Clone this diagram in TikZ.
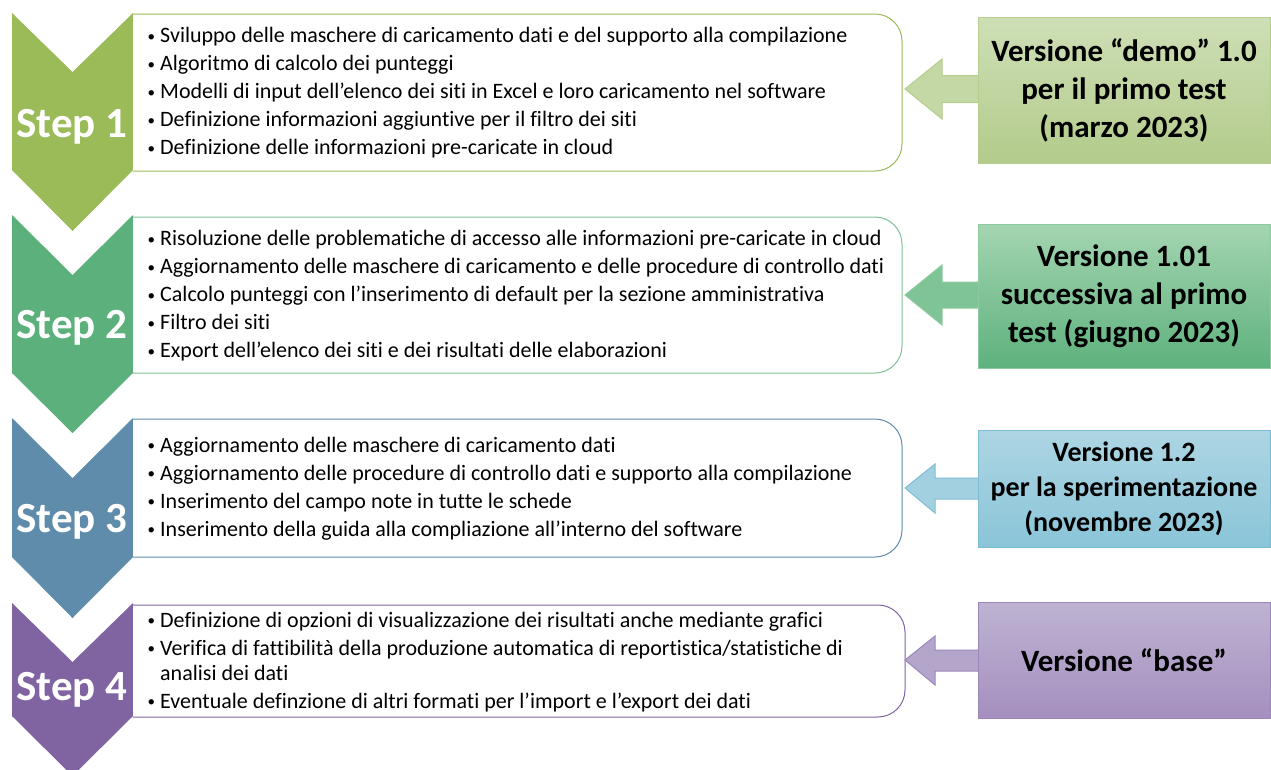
\documentclass[tikz,border=0pt]{standalone}
\usepackage{fontspec}
\setmainfont[Ligatures=NoCommon]{Carlito}
\usetikzlibrary{calc}
\definecolor{cA}{HTML}{9BBB59}
\definecolor{cB}{HTML}{5BB07B}
\definecolor{cC}{HTML}{5F8CAB}
\definecolor{cD}{HTML}{8064A2}
\definecolor{bA}{HTML}{9BBB59}
\definecolor{bB}{HTML}{7CC296}
\definecolor{bC}{HTML}{5F8CAB}
\definecolor{bD}{HTML}{8064A2}
\definecolor{vAt}{HTML}{CEDFB6}
\definecolor{vAb}{HTML}{B3CB8B}
\definecolor{vAl}{HTML}{B5CD8E}
\definecolor{aAf}{HTML}{C4D8A6}
\definecolor{vBt}{HTML}{A4D5B1}
\definecolor{vBb}{HTML}{5EB17D}
\definecolor{vBl}{HTML}{8ECA9F}
\definecolor{aBf}{HTML}{7FC496}
\definecolor{vCt}{HTML}{ADD5E3}
\definecolor{vCb}{HTML}{8AC5D8}
\definecolor{vCl}{HTML}{7DBCD2}
\definecolor{aCf}{HTML}{A3D0E0}
\definecolor{vDt}{HTML}{BEB3D2}
\definecolor{vDb}{HTML}{A58FBF}
\definecolor{vDl}{HTML}{9C87BB}
\definecolor{aDf}{HTML}{B4A5CB}
\newcommand\itm[1]{\makebox[13pt][l]{\hspace*{0.5pt}\raisebox{1.8pt}{\fontsize{15}{15}\selectfont •}}#1}
\tikzset{
  listbox/.style={fill=white, line width=1pt, rounded corners=27pt},
  steplabel/.style={text=white, font=\fontsize{43}{50}\selectfont\bfseries, inner sep=0pt, anchor=base},
  bodytext/.style={font=\fontsize{22}{24.5}\selectfont, align=left, inner sep=0pt, anchor=west, text=black},
  verbox/.style={rectangle, line width=1pt, minimum width=292pt, inner sep=0pt, align=center, text=black},
  blockarrow/.style={line width=1pt, line join=miter},
}
\begin{document}
\begin{tikzpicture}[x=1pt,y=-1pt]
\useasboundingbox (0,0) rectangle (1271,769);
\clip (0,0) rectangle (1271,769);

% chevrons
\fill[cA] (12,13) -- (72.5,72) -- (133,13) -- (133,170) -- (72.5,231) -- (12,170) -- cycle;
\fill[cB] (12,215) -- (72.5,275) -- (133,215) -- (133,373) -- (72.5,433) -- (12,373) -- cycle;
\fill[cC] (12,418) -- (72.5,478) -- (133,418) -- (133,557) -- (72.5,618) -- (12,557) -- cycle;
\fill[cD] (12,603) -- (72.5,662) -- (133,603) -- (133,716) -- (72.5,776) -- (12,716) -- cycle;

% list boxes
\filldraw[listbox, draw=bA] (133,14) -- (902,14) -- (902,171) -- (133,171);
\filldraw[listbox, draw=bB] (133,217) -- (902,217) -- (902,373) -- (133,373);
\filldraw[listbox, draw=bC] (133,419) -- (902,419) -- (902,557) -- (133,557);
\filldraw[listbox, draw=bD] (133,605) -- (905,605) -- (905,717) -- (133,717);

% step labels
\node[steplabel] (s1) at (72,137) {Step 1};
\node[steplabel] (s2) at (72,338) {Step 2};
\node[steplabel] (s3) at (72,532) {Step 3};
\node[steplabel] (s4) at (72,700) {Step 4};

% list texts
\node[bodytext] (l1) at (147,93) {%
\itm{Sviluppo delle maschere di caricamento dati e del supporto alla compilazione}\\[3.5pt]
\itm{Algoritmo di calcolo dei punteggi}\\[3.5pt]
\itm{Modelli di input dell’elenco dei siti in Excel e loro caricamento nel software}\\[3.5pt]
\itm{Definizione informazioni aggiuntive per il filtro dei siti}\\[3.5pt]
\itm{Definizione delle informazioni pre-caricate in cloud}};

\node[bodytext] (l2) at (147,296) {%
\itm{Risoluzione delle problematiche di accesso alle informazioni pre-caricate in cloud}\\[3.5pt]
\itm{Aggiornamento delle maschere di caricamento e delle procedure di controllo dati}\\[3.5pt]
\itm{Calcolo punteggi con l’inserimento di default per la sezione amministrativa}\\[3.5pt]
\itm{Filtro dei siti}\\[3.5pt]
\itm{Export dell’elenco dei siti e dei risultati delle elaborazioni}};

\node[bodytext] (l3) at (147,489) {%
\itm{Aggiornamento delle maschere di caricamento dati}\\[3.5pt]
\itm{Aggiornamento delle procedure di controllo dati e supporto alla compilazione}\\[3.5pt]
\itm{Inserimento del campo note in tutte le schede}\\[3.5pt]
\itm{Inserimento della guida alla compliazione all’interno del software}};

\node[bodytext] (l4) at (147,662) {%
\itm{Definizione di opzioni di visualizzazione dei risultati anche mediante grafici}\\[3.5pt]
\itm{Verifica di fattibilità della produzione automatica di reportistica/statistiche di}\\
\hspace*{13pt}analisi dei dati\\[3.5pt]
\itm{Eventuale definzione di altri formati per l’import e l’export dei dati}};

% version box positions and arrow tips
\path (1124,89) coordinate (p1) (1124,295) coordinate (p2) (1124,488.5) coordinate (p3) (1124,660) coordinate (p4);
\coordinate (t1) at (905,89);
\coordinate (t2) at (905,295);
\coordinate (t3) at (905,488);
\coordinate (t4) at (905,660);

% arrows
\filldraw[blockarrow, fill=aAf, draw=vAl] (980,75.5) -- (942,75.5) -- (942,59) -- (t1) -- (942,119) -- (942,102.5) -- (980,102.5) -- cycle;
\filldraw[blockarrow, fill=aBf, draw=vBl] (980,282) -- (942,282) -- (942,265) -- (t2) -- (942,325) -- (942,308) -- (980,308) -- cycle;
\filldraw[blockarrow, fill=aCf, draw=vCl] (980,478) -- (935,478) -- (935,464) -- (t3) -- (935,513) -- (935,499) -- (980,499) -- cycle;
\filldraw[blockarrow, fill=aDf, draw=vDl] (980,650) -- (935,650) -- (935,636) -- (t4) -- (935,685) -- (935,671) -- (980,671) -- cycle;

\node[verbox, minimum height=146pt, top color=vAt, bottom color=vAb, draw=vAl,
  font=\fontsize{31}{38}\selectfont\bfseries] (v1) at (1124,90)
  {Versione “demo” 1.0\\per il primo test\\(marzo 2023)};
\node[verbox, minimum height=144pt, top color=vBt, bottom color=vBb, draw=vBl,
  font=\fontsize{31}{38}\selectfont\bfseries] (v2) at (1124,296)
  {Versione 1.01\\successiva al primo\\test (giugno 2023)};
\node[verbox, minimum height=117pt, top color=vCt, bottom color=vCb, draw=vCl,
  font=\fontsize{28}{35}\selectfont\bfseries] (v3) at (1124,489)
  {Versione 1.2\\per la sperimentazione\\(novembre 2023)};
\node[verbox, minimum height=116pt, top color=vDt, bottom color=vDb, draw=vDl,
  font=\fontsize{31}{37}\selectfont\bfseries] (v4) at (p4)
  {Versione “base”};
\end{tikzpicture}
\end{document}
